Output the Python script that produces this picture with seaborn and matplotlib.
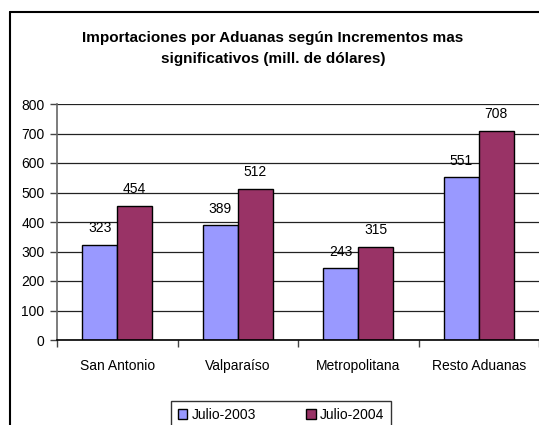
import pandas as pd
import matplotlib
matplotlib.use('Agg')
import matplotlib.pyplot as plt
from matplotlib.lines import Line2D
import seaborn as sns

aduanas = ['San Antonio', 'Valparaíso', 'Metropolitana', 'Resto Aduanas']
julio_2003 = [323, 389, 243, 551]
julio_2004 = [454, 512, 315, 708]
series = ['Julio-2003', 'Julio-2004']
yticks = [0, 100, 200, 300, 400, 500, 600, 700, 800]

my_pal = {'Julio-2003': '#9999FF', 'Julio-2004': '#993366'}

df = pd.DataFrame({'Aduana': aduanas * 2,
                   'Periodo': [series[0]] * 4 + [series[1]] * 4,
                   'Valor': julio_2003 + julio_2004})

sns.set_style('white')
plt.rcParams['font.family'] = ['Liberation Sans', 'DejaVu Sans']
plt.rc('text', color='black')
plt.rc('xtick', color='black')
plt.rc('ytick', color='black')
plt.rc('xtick', labelcolor='black')
plt.rc('ytick', labelcolor='black')

fig = plt.figure(figsize=(5.39, 4.25), dpi=100)
ax = fig.add_axes([57/539, 1 - 340/425, 1 - 57/539, (340 - 104)/425])

sns.barplot(data=df, x='Aduana', y='Valor', hue='Periodo', palette=my_pal,
            width=0.58, edgecolor='black', linewidth=1, saturation=1,
            ax=ax, legend=True)

# value labels
for cont in ax.containers:
    ax.bar_label(cont, fmt='%d', padding=7, fontsize=10, color='black')

# axes and grid
ax.set_ylim(0, 800)
ax.set_xlim(-0.5, 3.5)
ax.set_yticks(yticks)
ax.yaxis.grid(True, color='#222222', linewidth=0.9)
ax.set_axisbelow(True)
ax.set_xlabel('')
ax.set_ylabel('')

ax.set_xticks([-0.5, 0.5, 1.5, 2.5, 3.5])
ax.set_xticklabels([])
ax.set_xticks(range(len(aduanas)), minor=True)
ax.set_xticklabels(aduanas, minor=True, fontsize=10)
ax.tick_params(axis='x', which='major', direction='out', length=5, width=1, color='#444444', bottom=True)
ax.tick_params(axis='x', which='minor', length=0, pad=14, labelcolor='black')
ax.tick_params(axis='y', direction='out', length=5, width=1, color='#444444', left=True,
               labelsize=10, pad=4, labelcolor='black')

for s in ['top', 'right']:
    ax.spines[s].set_visible(False)
ax.spines['left'].set_color('#666666')
ax.spines['left'].set_linewidth(1.2)
ax.spines['bottom'].set_color('black')
ax.spines['bottom'].set_linewidth(1.2)

# legend
handles, labels = ax.get_legend_handles_labels()
ax.get_legend().remove()
leg = fig.legend(handles, labels, loc='upper center', ncol=2,
                 bbox_to_anchor=(281/539, 1 - 401/425), frameon=True, fancybox=False,
                 edgecolor='black', fontsize=10, handlelength=0.7, handleheight=0.7,
                 handletextpad=0.3, columnspacing=3.6, borderpad=0.5, borderaxespad=0)
leg.get_frame().set_linewidth(1)
for t in leg.get_texts():
    t.set_color('black')

# title
fig.text(273/539, 1 - 48.5/425,
         'Importaciones por Aduanas según Incrementos mas\nsignificativos (mill. de dólares)',
         ha='center', va='center', fontsize=11, fontweight='bold', linespacing=1.6,
         color='black')

# outer chart frame
fig.add_artist(Line2D([10/539, 10/539], [0, 1 - 12/425], color='black', linewidth=1.5))
fig.add_artist(Line2D([10/539, 1], [1 - 12/425, 1 - 12/425], color='black', linewidth=1.5))

fig.savefig('out.png', dpi=100)
